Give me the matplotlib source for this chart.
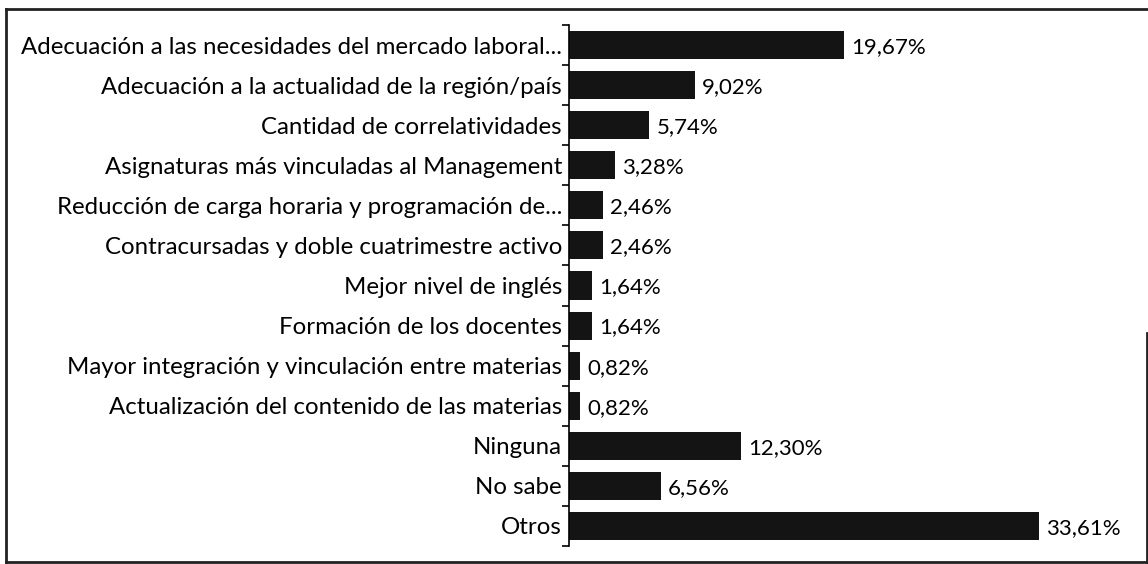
import matplotlib.pyplot as plt
from matplotlib.lines import Line2D

# categories top to bottom
labels = [
    "Adecuación a las necesidades del mercado laboral...",
    "Adecuación a la actualidad de la región/país",
    "Cantidad de correlatividades",
    "Asignaturas más vinculadas al Management",
    "Reducción de carga horaria y programación de...",
    "Contracursadas y doble cuatrimestre activo",
    "Mejor nivel de inglés",
    "Formación de los docentes",
    "Mayor integración y vinculación entre materias",
    "Actualización del contenido de las materias",
    "Ninguna",
    "No sabe",
    "Otros",
]
values = [19.67, 9.02, 5.74, 3.28, 2.46, 2.46, 1.64, 1.64, 0.82, 0.82, 12.30, 6.56, 33.61]

plt.rcParams['font.family'] = ['Lato', 'DejaVu Sans']

W, H = 1148, 564
fig = plt.figure(figsize=(W / 100, H / 100), dpi=100)
ax = fig.add_axes([569 / W, 1 - 546 / H, (1140 - 569) / W, (546 - 25) / H])

n = len(values)
ypos = list(range(n))
ax.barh(ypos, values, height=0.7, color="#141414")
ax.set_ylim(n - 0.5, -0.5)
ax.set_xlim(0, 40.8)

for y, v in zip(ypos, values):
    ax.text(v + 0.5, y + 0.05, f"{v:.2f}%".replace(".", ","), va="center", ha="left",
            fontsize=16, color="black")

ax.set_yticks(ypos)
ax.set_yticklabels(labels, fontsize=17.3)
ax.tick_params(axis="y", which="major", length=0, pad=5)
ax.set_yticks([i - 0.5 for i in range(n + 1)], minor=True)
ax.tick_params(axis="y", which="minor", length=5, width=1.2)
ax.set_xticks([])

for s in ["top", "right", "bottom"]:
    ax.spines[s].set_visible(False)
ax.spines["left"].set_linewidth(1.2)

# outer frame (scanned page border, right side only partly visible)
def frame_line(xs, ys):
    fig.add_artist(Line2D([x / W for x in xs], [1 - y / H for y in ys],
                          transform=fig.transFigure, color="#222222", linewidth=2))

frame_line([6, 1148], [9, 9])
frame_line([6, 6], [9, 562])
frame_line([6, 1148], [562, 562])
frame_line([1146.5, 1146.5], [333, 562])

fig.savefig("out.png", dpi=100)
